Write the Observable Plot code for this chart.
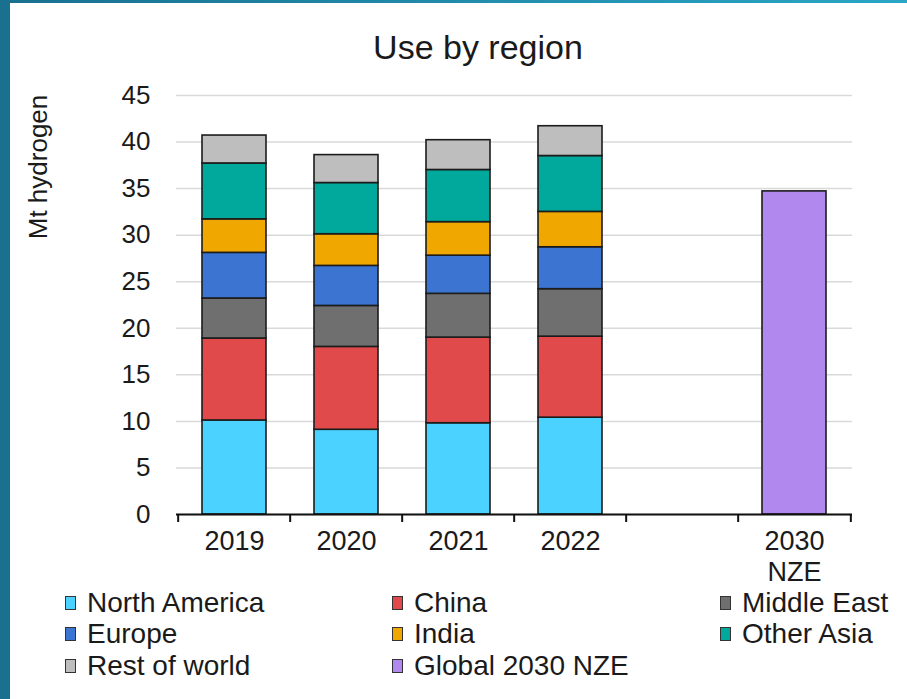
<!DOCTYPE html>
<html>
<head>
<meta charset="utf-8">
<script src="https://cdn.jsdelivr.net/npm/d3@7"></script>
<script src="https://cdn.jsdelivr.net/npm/@observablehq/plot@0.6"></script>
<style>
  html, body { margin: 0; padding: 0; background: #fff; }
  #page { position: relative; width: 907px; height: 699px; overflow: hidden; background: #fff;
          font-family: "Liberation Sans", Arial, sans-serif; color: #1a1a1a; }
  #leftbar { position: absolute; left: 0; top: 0; width: 10px; height: 699px; background: #19708f; }
  #topbar { position: absolute; left: 0; top: 0; width: 907px; height: 3px;
            background: linear-gradient(to right, #19708f, #2aa6c6); }
  #title { position: absolute; left: 278px; width: 400px; top: 28px; text-align: center;
           font-size: 34px; line-height: 38px; }
  #ylabel { position: absolute; left: 38px; top: 167px; transform: translate(-50%, -50%) rotate(-90deg);
            font-size: 26px; white-space: nowrap; line-height: 30px; }
  #chart { position: absolute; left: 0; top: 80px; }
  #legend { position: absolute; left: 65px; top: 587px; display: grid;
            grid-template-columns: 327px 328px auto; grid-auto-rows: 31.5px; font-size: 28px; line-height: 1; }
  .item { display: flex; align-items: center; white-space: nowrap; }
  .sw { width: 11px; height: 14px; border: 1.5px solid #333; margin-right: 11px; box-sizing: border-box; flex: none; }
</style>
</head>
<body>
<div id="page">
  <div id="leftbar"></div>
  <div id="topbar"></div>
  <div id="chart"></div>
  <div id="title">Use by region</div>
  <div id="ylabel">Mt hydrogen</div>
  <div id="legend"></div>
</div>
<script>
// ---- Data (Mt hydrogen) ----
const categories = ["2019", "2020", "2021", "2022", "gap", "2030 NZE"];
const years = ["2019", "2020", "2021", "2022"];
const regions = ["North America", "China", "Middle East", "Europe", "India", "Other Asia", "Rest of world"];
const northAmerica = [10.1, 9.1, 9.8, 10.4];
const china = [8.8, 8.9, 9.2, 8.7];
const middleEast = [4.3, 4.4, 4.7, 5.1];
const europe = [4.9, 4.3, 4.1, 4.5];
const india = [3.6, 3.4, 3.6, 3.8];
const otherAsia = [6.0, 5.5, 5.6, 6.0];
const restOfWorld = [3.0, 3.0, 3.2, 3.2];
const nzeLabel = "Global 2030 NZE";
const nzeCategory = "2030 NZE";
const nzeValue = [34.7];
const yTicks = [0, 5, 10, 15, 20, 25, 30, 35, 40, 45];
const legendOrder = ["North America", "China", "Middle East", "Europe", "India", "Other Asia", "Rest of world", "Global 2030 NZE"];
const colors = ["#4cd2ff", "#e04a4a", "#6f6f6f", "#3b74d1", "#f0a700", "#00a99b", "#bebebe", "#b088ee"];

// ---- Build table ----
const seriesValues = [northAmerica, china, middleEast, europe, india, otherAsia, restOfWorld];
const rows = [];
years.forEach((yr, i) => {
  regions.forEach((r, j) => rows.push({cat: yr, region: r, value: seriesValues[j][i]}));
});
rows.push({cat: nzeCategory, region: nzeLabel, value: nzeValue[0]});

const colorDomain = [...regions, nzeLabel];

const W = 907, H = 525, mL = 176, mR = 55, mT = 15, mB = 91;
const padIn = 0.43, padOut = padIn / 2;
const step = (W - mL - mR) / (categories.length - padIn + 2 * padOut);

const plot = Plot.plot({
  width: W,
  height: H,
  marginLeft: mL,
  marginRight: mR,
  marginTop: mT,
  marginBottom: mB,
  style: {fontFamily: '"Liberation Sans", Arial, sans-serif', fontSize: "27px", color: "#1a1a1a", background: "transparent"},
  x: {domain: categories, paddingInner: padIn, paddingOuter: padOut, label: null},
  y: {domain: [0, 45], label: null},
  color: {domain: colorDomain, range: colors},
  marks: [
    Plot.gridY(yTicks, {stroke: "#d9d9d9", strokeOpacity: 1, strokeWidth: 1.5}),
    Plot.axisY(yTicks, {tickSize: 0, tickPadding: 26, fontSize: 26, label: null}),
    Plot.axisX({tickSize: 0, tickPadding: 14, fontSize: 27, label: null, lineHeight: 1.13,
                tickFormat: d => d === "gap" ? "" : d.replace(" ", "\n")}),
    Plot.barY(rows, {x: "cat", y: "value", fill: "region", stroke: "#1c1c1c", strokeWidth: 1.6}),
    Plot.ruleY([0], {stroke: "#111", strokeWidth: 2}),
    Plot.ruleX(categories, {x: d => d, y1: 0, y2: 0, insetBottom: -8, dx: -step / 2, stroke: "#111", strokeWidth: 2}),
    Plot.ruleX(categories.slice(-1), {x: d => d, y1: 0, y2: 0, insetBottom: -8, dx: step / 2, stroke: "#111", strokeWidth: 2})
  ]
});
document.getElementById("chart").appendChild(plot);

// ---- Legend ----
const color = plot.scale("color");
const cScale = d3.scaleOrdinal(color.domain, color.range);
const legend = d3.select("#legend");
legendOrder.forEach(name => {
  const it = legend.append("div").attr("class", "item");
  it.append("div").attr("class", "sw").style("background", cScale(name));
  it.append("span").text(name);
});
</script>
</body>
</html>
